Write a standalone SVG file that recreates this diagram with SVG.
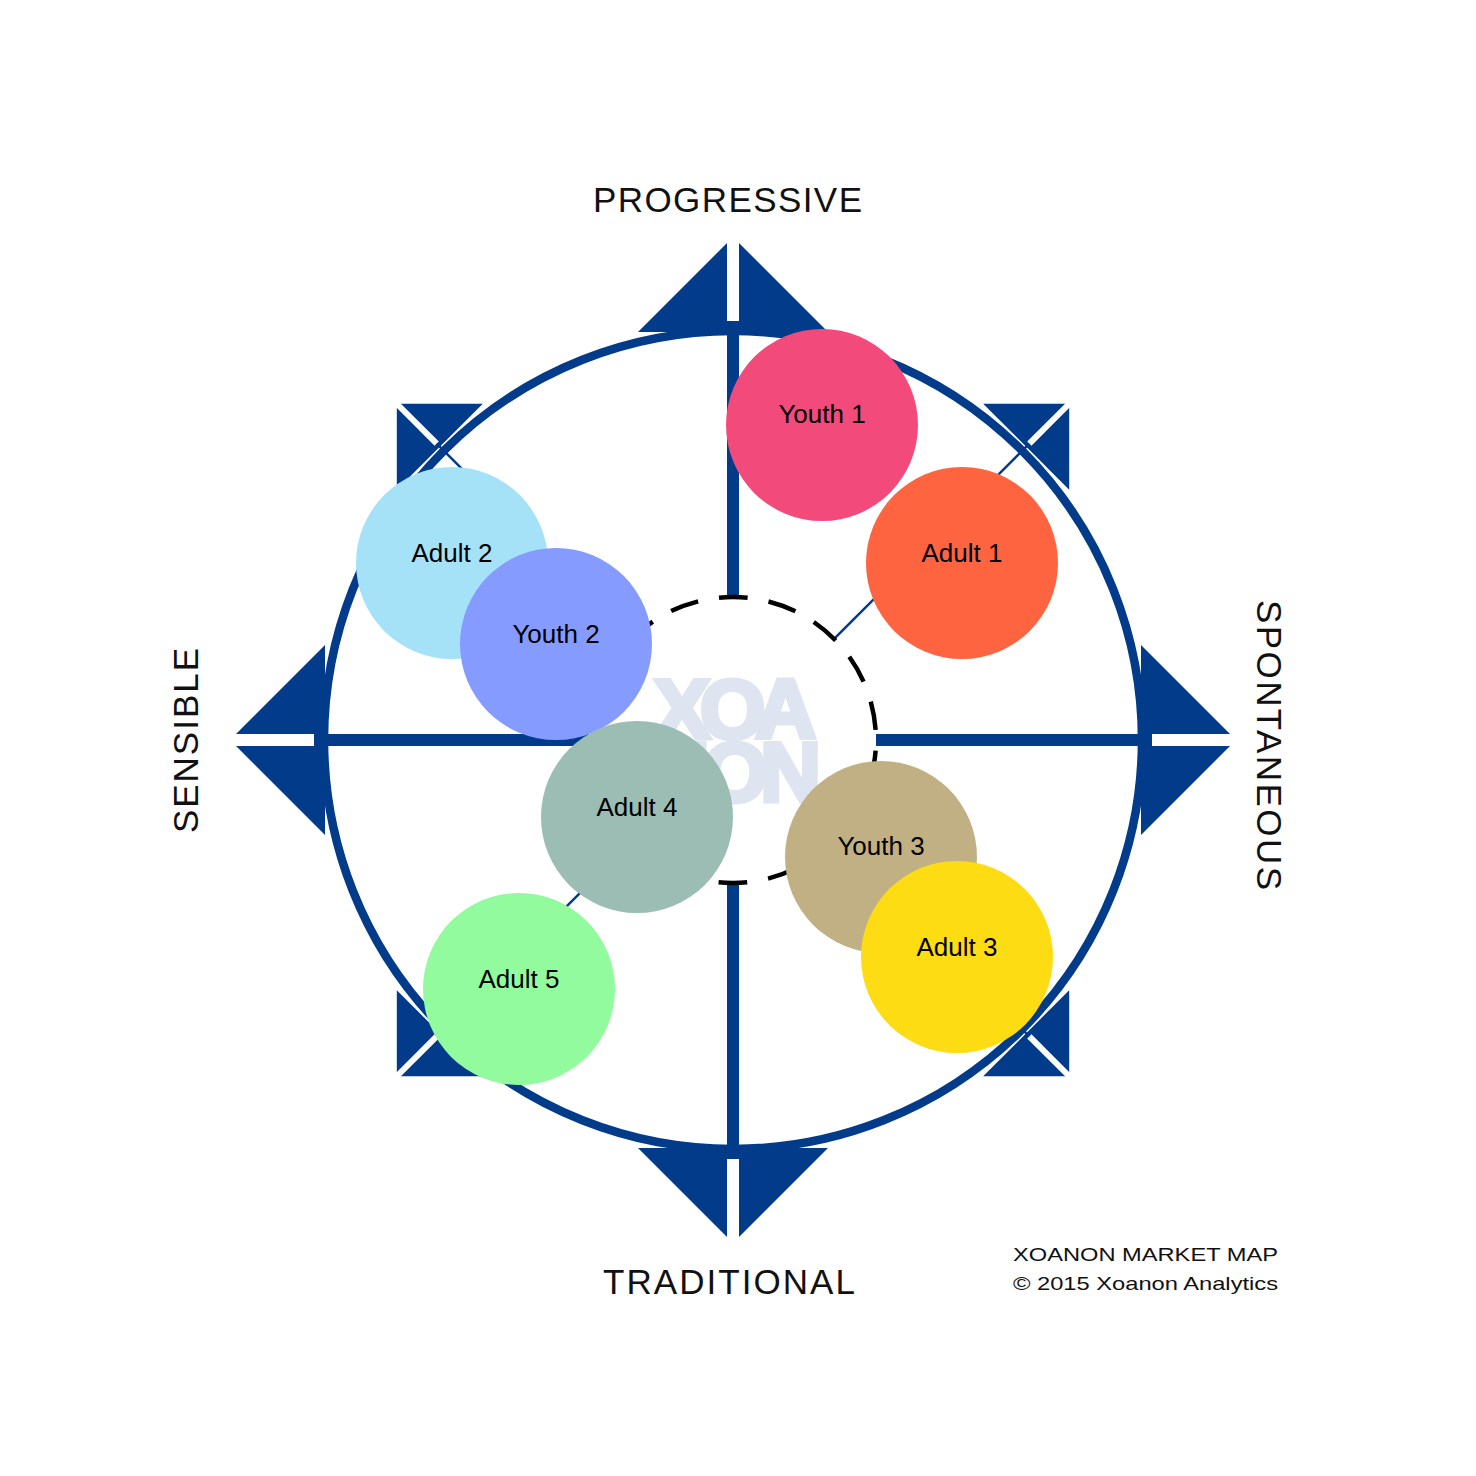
<svg xmlns="http://www.w3.org/2000/svg" width="1476" height="1476" viewBox="0 0 1476 1476">
<style>
.blue{fill:#013b8a}
.stripe{stroke:#fff;fill:none}
.axis{font-family:"Liberation Sans",Arial,sans-serif;font-size:35px;fill:#111}
.lbl{font-family:"Liberation Sans",Arial,sans-serif;font-size:26px;fill:#000;text-anchor:middle}
.foot{font-family:"Liberation Sans",Arial,sans-serif;font-size:18.5px;fill:#111}
.wm{font-family:"Liberation Sans",Arial,sans-serif;font-weight:bold;font-size:84px;fill:#dfe4f1;stroke:#dfe4f1;stroke-width:5;stroke-linejoin:miter}
</style>
<rect width="1476" height="1476" fill="#fff"/>
<g id="arrows">
<polygon class="blue" points="733,237 828,332 638,332"/>
<polygon class="blue" points="733,1243 828,1148 638,1148"/>
<polygon class="blue" points="230,740 325,645 325,835"/>
<polygon class="blue" points="1236,740 1141,645 1141,835"/>
<polygon class="blue" points="1069.2,403.8 983.2,403.8 1069.2,489.8"/>
<polygon class="blue" points="396.8,403.8 482.8,403.8 396.8,489.8"/>
<polygon class="blue" points="1069.2,1076.2 983.2,1076.2 1069.2,990.2"/>
<polygon class="blue" points="396.8,1076.2 482.8,1076.2 396.8,990.2"/>
<g class="stripe" stroke-width="12">
<line x1="733" y1="321" x2="733" y2="228"/>
<line x1="733" y1="1159" x2="733" y2="1252"/>
<line x1="314" y1="740" x2="221" y2="740"/>
<line x1="1152" y1="740" x2="1245" y2="740"/>
</g>
<g class="stripe" stroke-width="6">
<line x1="1029.3" y1="443.7" x2="1076" y2="397"/>
<line x1="436.7" y1="443.7" x2="390" y2="397"/>
<line x1="1029.3" y1="1036.3" x2="1076" y2="1083"/>
<line x1="436.7" y1="1036.3" x2="390" y2="1083"/>
</g>
</g>
<circle id="ring" cx="733" cy="740" r="409" fill="#fff" stroke="#013b8a" stroke-width="8.5"/>
<g id="connectors" stroke="#013b8a" fill="none">
<g stroke-width="12">
<line x1="733" y1="597" x2="733" y2="321"/>
<line x1="733" y1="883" x2="733" y2="1159"/>
<line x1="590" y1="740" x2="314" y2="740"/>
<line x1="876" y1="740" x2="1152" y2="740"/>
</g>
<g stroke-width="2.5">
<line x1="834.1" y1="638.9" x2="1029.3" y2="443.7"/>
<line x1="631.9" y1="638.9" x2="436.7" y2="443.7"/>
<line x1="834.1" y1="841.1" x2="1029.3" y2="1036.3"/>
<line x1="631.9" y1="841.1" x2="436.7" y2="1036.3"/>
</g>
</g>
<circle id="core" cx="733" cy="740" r="143" fill="none" stroke="#000" stroke-width="4.5" stroke-dasharray="28.7 21.22" stroke-dashoffset="39.31"/>
<g id="watermark" class="wm">
<text x="654" y="738" textLength="162" lengthAdjust="spacing">XOA</text>
<text x="649" y="801" textLength="172" lengthAdjust="spacing">NON</text>
</g>
<g id="youth1"><circle cx="822" cy="425" r="96" fill="#f24a7b"/><text class="lbl" x="822" y="423">Youth 1</text></g>
<g id="adult1"><circle cx="962" cy="563" r="96" fill="#ff6441"/><text class="lbl" x="962" y="562">Adult 1</text></g>
<g id="adult2"><circle cx="452" cy="563" r="96" fill="#a5e2f8"/><text class="lbl" x="452" y="562">Adult 2</text></g>
<g id="youth2"><circle cx="556" cy="644" r="96" fill="#859bff"/><text class="lbl" x="556" y="643">Youth 2</text></g>
<g id="adult4"><circle cx="637" cy="817" r="96" fill="#9bbdb3"/><text class="lbl" x="637" y="816">Adult 4</text></g>
<g id="youth3"><circle cx="881" cy="857" r="96" fill="#c1b083"/><text class="lbl" x="881" y="855">Youth 3</text></g>
<g id="adult3"><circle cx="957" cy="957" r="96" fill="#fddc14"/><text class="lbl" x="957" y="956">Adult 3</text></g>
<g id="adult5"><circle cx="519" cy="989" r="96" fill="#92fb9e"/><text class="lbl" x="519" y="988">Adult 5</text></g>
<g id="labels">
<text class="axis" x="593" y="212" textLength="269" lengthAdjust="spacing">PROGRESSIVE</text>
<text class="axis" x="603" y="1294" textLength="252" lengthAdjust="spacing">TRADITIONAL</text>
<text class="axis" transform="translate(198,833) rotate(-90)" x="0" y="0" textLength="185" lengthAdjust="spacing">SENSIBLE</text>
<text class="axis" transform="translate(1257,600) rotate(90)" x="0" y="0" textLength="290" lengthAdjust="spacing">SPONTANEOUS</text>
<text class="foot" x="1013" y="1261" textLength="265" lengthAdjust="spacingAndGlyphs">XOANON MARKET MAP</text>
<text class="foot" x="1013" y="1290" textLength="265" lengthAdjust="spacingAndGlyphs">© 2015 Xoanon Analytics</text>
</g>
</svg>
